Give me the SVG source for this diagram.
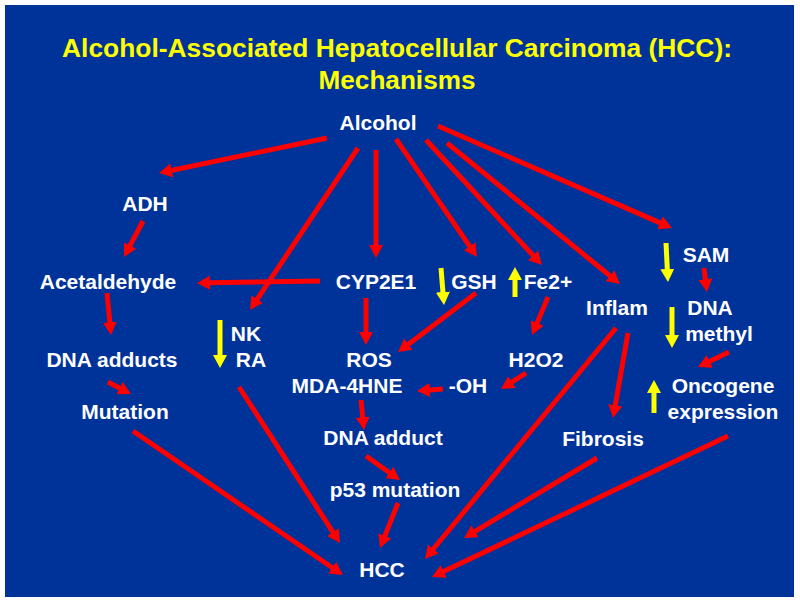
<svg xmlns="http://www.w3.org/2000/svg" width="800" height="603" viewBox="0 0 800 603">
<defs>
<style>
.t{font-family:"Liberation Sans",Arial,sans-serif;font-weight:bold;font-size:21px;fill:#ffffff;text-anchor:middle}
.title{font-family:"Liberation Sans",Arial,sans-serif;font-weight:bold;font-size:26px;fill:#ffff00;text-anchor:middle}
.r{stroke:#ff0000;stroke-width:5;fill:none;marker-end:url(#rh)}
.y{stroke:#ffff00;stroke-width:5;fill:none;marker-end:url(#yh)}
</style>
<marker id="rh" markerUnits="userSpaceOnUse" markerWidth="14" markerHeight="14" refX="2" refY="7" orient="auto"><path d="M0,0 L13,7 L0,14 z" fill="#ff0000"/></marker>
<marker id="yh" markerUnits="userSpaceOnUse" markerWidth="14" markerHeight="14" refX="2" refY="7" orient="auto"><path d="M0,0 L13,7 L0,14 z" fill="#ffff00"/></marker>
</defs>
<rect x="0" y="0" width="800" height="603" fill="#ffffff"/>
<rect x="5" y="5" width="789" height="592" fill="#003399"/>
<g id="title">
<text class="title" x="397" y="57" textLength="670" lengthAdjust="spacingAndGlyphs">Alcohol-Associated Hepatocellular Carcinoma (HCC):</text>
<text class="title" x="397" y="89" textLength="157" lengthAdjust="spacingAndGlyphs">Mechanisms</text>
</g>
<g id="connectors">
<line class="r" x1="327" y1="138" x2="169.8" y2="170.8"/>
<line class="r" x1="358" y1="148" x2="256.1" y2="300.8"/>
<line class="r" x1="376" y1="150" x2="376" y2="247"/>
<line class="r" x1="396" y1="139" x2="470.8" y2="247.9"/>
<line class="r" x1="426" y1="140" x2="534.5" y2="256.9"/>
<line class="r" x1="447" y1="143" x2="611.5" y2="277"/>
<line class="r" x1="438" y1="126" x2="661.9" y2="223.6"/>
<line class="r" x1="143" y1="221" x2="129.1" y2="247.3"/>
<line class="r" x1="320" y1="281" x2="208" y2="282.8"/>
<line class="r" x1="107" y1="293" x2="110" y2="324.1"/>
<line class="r" x1="366" y1="298" x2="366" y2="334"/>
<line class="r" x1="476" y1="293" x2="406.8" y2="345.4"/>
<line class="r" x1="548" y1="297" x2="536.3" y2="324.9"/>
<line class="r" x1="704" y1="268" x2="705.6" y2="281.1"/>
<line class="r" x1="628" y1="333" x2="614.9" y2="407.2"/>
<line class="r" x1="616" y1="328" x2="432" y2="550.5"/>
<line class="r" x1="597" y1="458" x2="473.4" y2="532.3"/>
<line class="r" x1="728" y1="436" x2="441.9" y2="572.3"/>
<line class="r" x1="729" y1="352" x2="707.9" y2="362.2"/>
<line class="r" x1="526" y1="373" x2="510.3" y2="383.1"/>
<line class="r" x1="443" y1="389" x2="428" y2="390.2"/>
<line class="r" x1="108" y1="382" x2="121.2" y2="388.9"/>
<line class="r" x1="133" y1="431" x2="333.9" y2="568.8"/>
<line class="r" x1="239" y1="387" x2="334" y2="533.8"/>
<line class="r" x1="361" y1="400" x2="362.9" y2="419.1"/>
<line class="r" x1="366" y1="456" x2="391" y2="473.7"/>
<line class="r" x1="398" y1="503" x2="384.1" y2="537.8"/>
<line class="y" x1="220" y1="320" x2="220" y2="357"/>
<line class="y" x1="441" y1="268" x2="443.1" y2="294"/>
<line class="y" x1="515" y1="297" x2="515" y2="278"/>
<line class="y" x1="666" y1="243" x2="667.4" y2="271"/>
<line class="y" x1="672" y1="307" x2="672" y2="337"/>
<line class="y" x1="654" y1="413" x2="654" y2="391"/>
</g>
<g id="alcohol"><text class="t" x="378" y="130">Alcohol</text></g>
<g id="adh"><text class="t" x="145" y="211">ADH</text></g>
<g id="acetaldehyde"><text class="t" x="108" y="289">Acetaldehyde</text></g>
<g id="cyp2e1"><text class="t" x="376" y="289">CYP2E1</text></g>
<g id="gsh"><text class="t" x="474" y="289">GSH</text></g>
<g id="fe2"><text class="t" x="548" y="289">Fe2+</text></g>
<g id="sam"><text class="t" x="706" y="262">SAM</text></g>
<g id="inflam"><text class="t" x="617" y="315">Inflam</text></g>
<g id="dnamethyl"><text class="t" x="710" y="315">DNA</text><text class="t" x="719" y="341">methyl</text></g>
<g id="nkra"><text class="t" x="246" y="341">NK</text><text class="t" x="251" y="367">RA</text></g>
<g id="dnaadducts"><text class="t" x="112" y="367">DNA adducts</text></g>
<g id="mutation"><text class="t" x="125" y="419">Mutation</text></g>
<g id="ros"><text class="t" x="369" y="367">ROS</text></g>
<g id="mda"><text class="t" x="347" y="393">MDA-4HNE</text></g>
<g id="h2o2"><text class="t" x="536" y="367">H2O2</text></g>
<g id="oh"><text class="t" x="468" y="393">-OH</text></g>
<g id="oncogene"><text class="t" x="723" y="393">Oncogene</text><text class="t" x="723" y="419">expression</text></g>
<g id="dnaadduct"><text class="t" x="383" y="445">DNA adduct</text></g>
<g id="fibrosis"><text class="t" x="603" y="446">Fibrosis</text></g>
<g id="p53"><text class="t" x="395" y="497">p53 mutation</text></g>
<g id="hcc"><text class="t" x="382" y="577">HCC</text></g>
</svg>
